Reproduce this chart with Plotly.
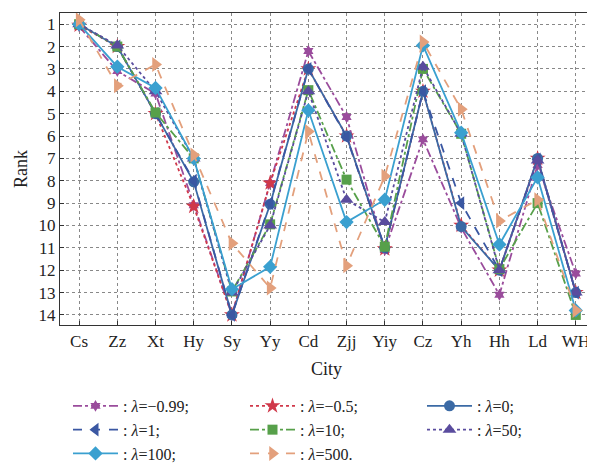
import plotly.graph_objects as go

cities = ["Cs", "Zz", "Xt", "Hy", "Sy", "Yy", "Cd", "Zjj", "Yiy", "Cz", "Yh", "Hh", "Ld", "WH"]

rank_m099 = [1.1, 3.1, 4.1, 9.1, 14.0, 8.1, 2.2, 5.15, 11.1, 6.15, 10.1, 13.1, 7.3, 12.15]
rank_m05  = [1.05, 2.0, 5.0, 9.15, 14.0, 8.1, 3.0, 6.0, 11.05, 4.0, 10.0, 12.0, 7.0, 13.0]
rank_0    = [1.0, 2.0, 5.0, 8.05, 14.0, 9.05, 3.0, 6.0, 11.0, 4.0, 10.05, 12.0, 7.0, 13.0]
rank_1    = [1.0, 2.0, 5.0, 8.0, 14.0, 9.0, 3.0, 6.05, 11.0, 4.0, 9.0, 12.0, 7.05, 13.0]
rank_10   = [1.0, 2.0, 4.95, 7.0, 12.95, 9.95, 3.95, 7.95, 10.95, 3.0, 5.9, 11.95, 9.0, 14.0]
rank_50   = [1.0, 1.95, 4.0, 7.0, 13.0, 10.0, 4.0, 8.85, 9.85, 2.9, 5.9, 12.0, 7.1, 13.0]
rank_100  = [1.0, 2.9, 3.85, 7.0, 12.85, 11.85, 4.85, 9.85, 8.85, 1.95, 5.85, 10.85, 7.85, 13.8]
rank_500  = [0.8, 3.75, 2.8, 6.85, 10.8, 12.8, 5.8, 11.8, 7.8, 1.8, 4.8, 9.8, 8.85, 13.8]

labels = [": <i>λ</i>=−0.99;", ": <i>λ</i>=−0.5;", ": <i>λ</i>=0;",
          ": <i>λ</i>=1;", ": <i>λ</i>=10;", ": <i>λ</i>=50;",
          ": <i>λ</i>=100;", ": <i>λ</i>=500."]

series = [rank_m099, rank_m05, rank_0, rank_1, rank_10, rank_50, rank_100, rank_500]
colors = ["#9a4c9c", "#d0384a", "#3b6aa5", "#3a57a2", "#57a04a", "#5a4c9e", "#3aa0d0", "#e3a07c"]
dashes = ["dashdot", "dot", "solid", "dash", "dashdot", "dot", "solid", "dash"]
symbols = ["hexagram", "star", "circle", "triangle-left", "square", "triangle-up", "diamond", "triangle-right"]
sizes = [9, 12, 11, 12, 10, 12, 11, 13]

fig = go.Figure()
for ys, lab, c, d, s, sz in zip(series, labels, colors, dashes, symbols, sizes):
    fig.add_trace(go.Scatter(
        x=cities, y=ys, name=lab, mode="lines+markers",
        line=dict(color=c, dash=d, width=1.8),
        marker=dict(symbol=s, size=sz, color=c, line=dict(width=0)),
    ))

font_family = "Liberation Serif"
fig.update_layout(
    width=587, height=456,
    margin=dict(l=52, r=2, t=5, b=139, autoexpand=False),
    paper_bgcolor="white", plot_bgcolor="white",
    font=dict(family=font_family, size=17, color="#222"),
    legend=dict(
        orientation="h", x=0.015, xanchor="left", y=-0.205, yanchor="top",
        entrywidth=117, entrywidthmode="pixels",
        font=dict(size=16, family=font_family), tracegroupgap=0,
        itemwidth=45, bgcolor="rgba(0,0,0,0)",
    ),
    showlegend=True,
)
fig.update_xaxes(
    type="category", range=[-0.5, 13.45], tickangle=0,
    showgrid=True, gridcolor="#888", griddash="dot", gridwidth=1,
    showline=True, linecolor="#333", linewidth=1.3, mirror=True,
    ticks="inside", ticklen=4, tickcolor="#333",
    title=dict(text="City", font=dict(size=18), standoff=12),
    tickfont=dict(size=17),
)
fig.update_yaxes(
    range=[14.45, 0.5], tickvals=list(range(1, 15)),
    showgrid=True, gridcolor="#888", griddash="dot", gridwidth=1,
    showline=True, linecolor="#333", linewidth=1.3, mirror=True,
    ticks="inside", ticklen=4, tickcolor="#333", zeroline=False,
    title=dict(text="Rank", font=dict(size=18), standoff=6),
    tickfont=dict(size=17),
)

fig.write_html("out.html")
